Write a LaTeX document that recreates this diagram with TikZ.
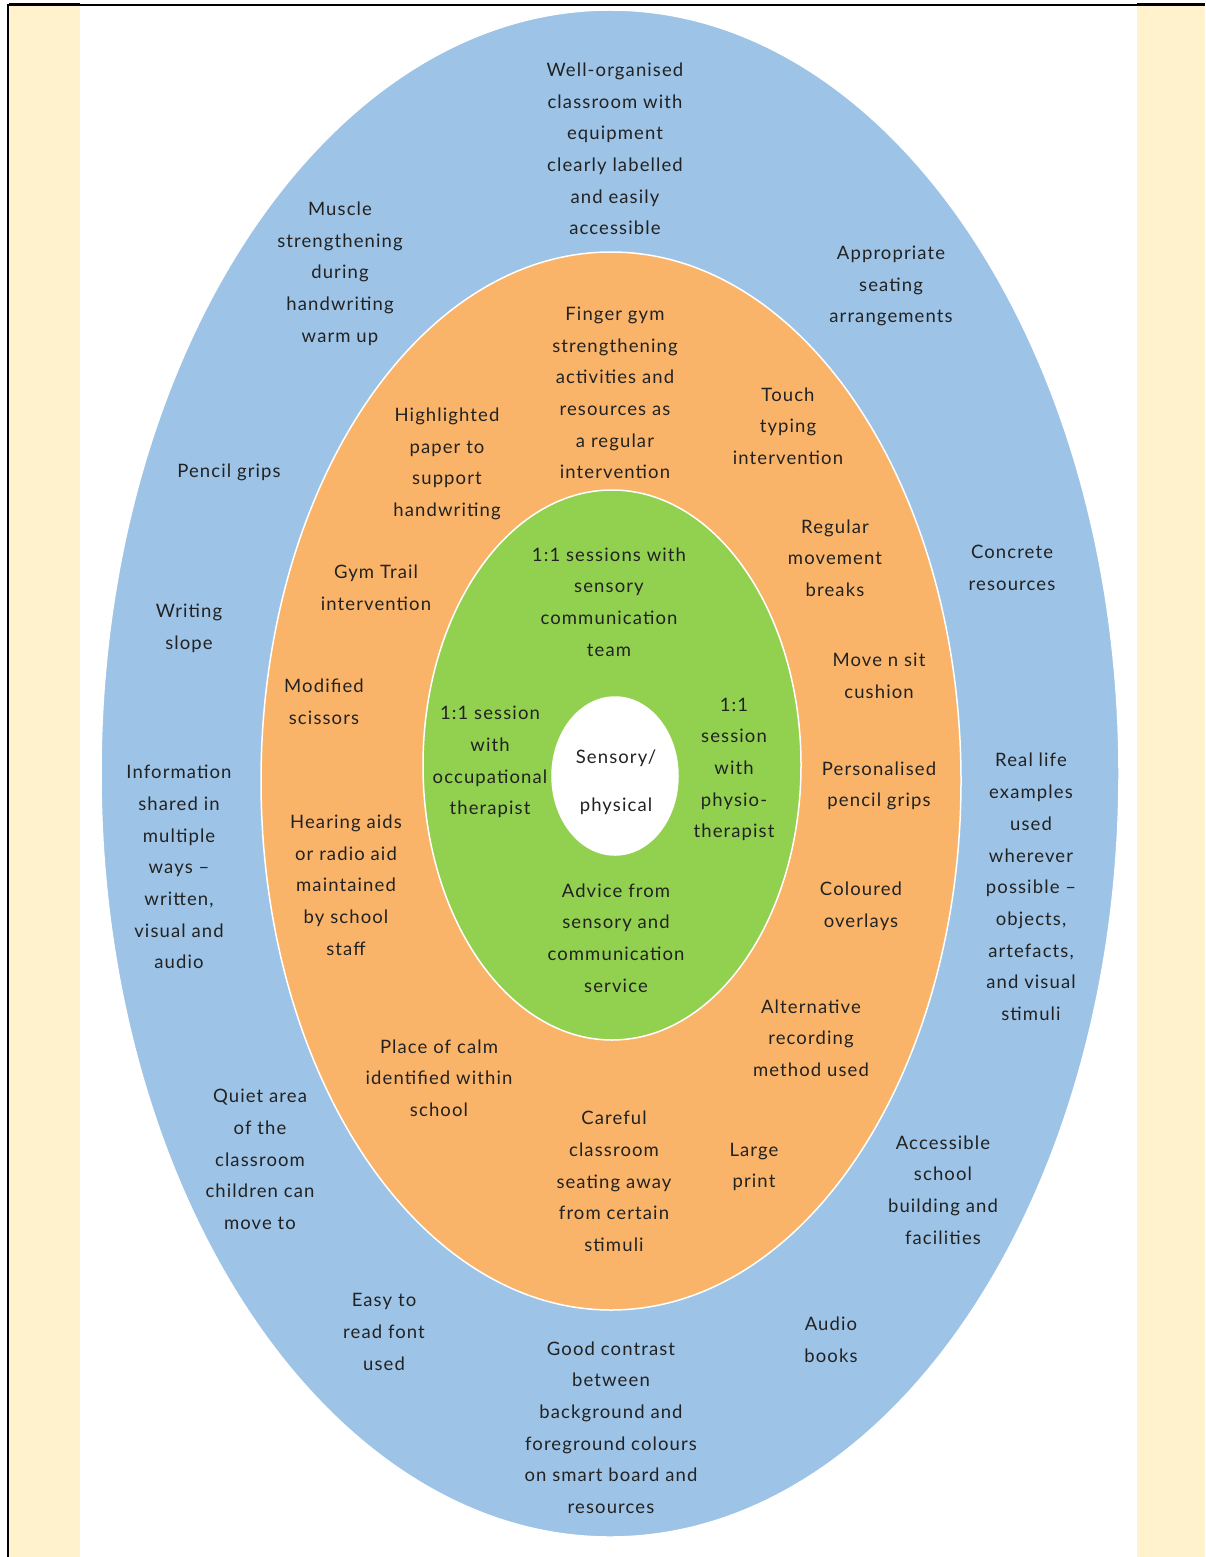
\documentclass[tikz,border=0pt]{standalone}
\usepackage{fontspec}
\setmainfont[LetterSpace=6]{Lato}
\usetikzlibrary{shapes.geometric}
\definecolor{cream}{HTML}{FFF2CC}
\definecolor{ringblue}{HTML}{9DC3E6}
\definecolor{ringorange}{HTML}{F9B46A}
\definecolor{ringgreen}{HTML}{92D050}
\definecolor{txt}{HTML}{222222}
\tikzset{
  ring/.style={ellipse, draw=white, line width=1.5pt, inner sep=0pt},
  lbl/.style={align=center, text=txt, inner sep=0pt,
    font=\fontsize{18.5}{31.7}\selectfont},
  core/.style={align=center, text=txt, inner sep=0pt,
    font=\fontsize{18.5}{48}\selectfont},
}
\begin{document}
\begin{tikzpicture}[x=1pt,y=-1pt]
\useasboundingbox (0,0) rectangle (1205,1557);
% side strips and frame
\fill[cream] (9,5) rectangle (80,1557);
\fill[cream] (1137,5) rectangle (1205,1557);
\draw[line width=1.2pt] (8,5) -- (1205,5);
\draw[line width=2.5pt] (9,4) -- (80,4);
\draw[line width=2.5pt] (1137,4) -- (1205,4);
\draw[line width=2.5pt] (8,4) -- (8,1557);
% rings
\node[ring, fill=ringblue, minimum width=1018pt, minimum height=1527pt] (outer) at (610,773.5) {};
\node[ring, fill=ringorange, minimum width=700pt, minimum height=1058pt] (middle) at (611,781) {};
\node[ring, fill=ringgreen, minimum width=378pt, minimum height=550pt] (inner) at (612,765) {};
\node[ring, fill=white, minimum width=126pt, minimum height=158pt] (centre) at (615,776) {};
\node[core] (ct) at (616,782) {Sensory/\\physical};
% outer ring texts
\node[lbl] (b1) at (615,149) {Well-organised\\classroom with\\equipment\\clearly labelled\\and easily\\accessible};
\node[lbl] (b2) at (340,273.5) {Muscle\\strengthening\\during\\handwriting\\warm up};
\node[lbl] (b3) at (891,286) {Appropriate\\seating\\arrangements};
\node[lbl] (b4) at (229,472) {Pencil grips};
\node[lbl] (b5) at (1012,568) {Concrete\\resources};
\node[lbl] (b6) at (189,628) {Writing\\slope};
\node[lbl] (b7) at (179,867) {Information\\shared in\\multiple\\ways --\\written,\\visual and\\audio};
\node[lbl] (b8) at (1031,887) {Real life\\examples\\used\\wherever\\possible --\\objects,\\artefacts,\\and visual\\stimuli};
\node[lbl] (b9) at (260,1159.5) {Quiet area\\of the\\classroom\\children can\\move to};
\node[lbl] (b10) at (943,1190) {Accessible\\school\\building and\\facilities};
\node[lbl] (b11) at (384,1332) {Easy to\\read font\\used};
\node[lbl] (b12) at (831,1340) {Audio\\books};
\node[lbl] (b13) at (611,1427.5) {Good contrast\\between\\background and\\foreground colours\\on smart board and\\resources};
% middle ring texts
\node[lbl] (o1) at (615,393) {Finger gym\\strengthening\\activities and\\resources as\\a regular\\intervention};
\node[lbl] (o2) at (447,464) {Highlighted\\paper to\\support\\handwriting};
\node[lbl] (o3) at (788,426) {Touch\\typing\\intervention};
\node[lbl] (o4) at (835,558) {Regular\\movement\\breaks};
\node[lbl] (o5) at (376,588) {Gym Trail\\intervention};
\node[lbl] (o6) at (879,676) {Move n sit\\cushion};
\node[lbl] (o7) at (324,702) {Modified\\scissors};
\node[lbl] (o8) at (879,786) {Personalised\\pencil grips};
\node[lbl] (o9) at (346,885) {Hearing aids\\or radio aid\\maintained\\by school\\staff};
\node[lbl] (o10) at (861,906) {Coloured\\overlays};
\node[lbl] (o11) at (811,1038) {Alternative\\recording\\method used};
\node[lbl] (o12) at (439,1078) {Place of calm\\identified within\\school};
\node[lbl] (o13) at (614,1181.5) {Careful\\classroom\\seating away\\from certain\\stimuli};
\node[lbl] (o14) at (754,1167) {Large\\print};
% inner ring texts
\node[lbl] (g1) at (609,602) {1:1 sessions with\\sensory\\communication\\team};
\node[lbl] (g2) at (490,762) {1:1 session\\with\\occupational\\therapist};
\node[lbl] (g3) at (734,769.5) {1:1\\session\\with\\physio-\\therapist};
\node[lbl] (g4) at (616,938) {Advice from\\sensory and\\communication\\service};
\end{tikzpicture}
\end{document}
